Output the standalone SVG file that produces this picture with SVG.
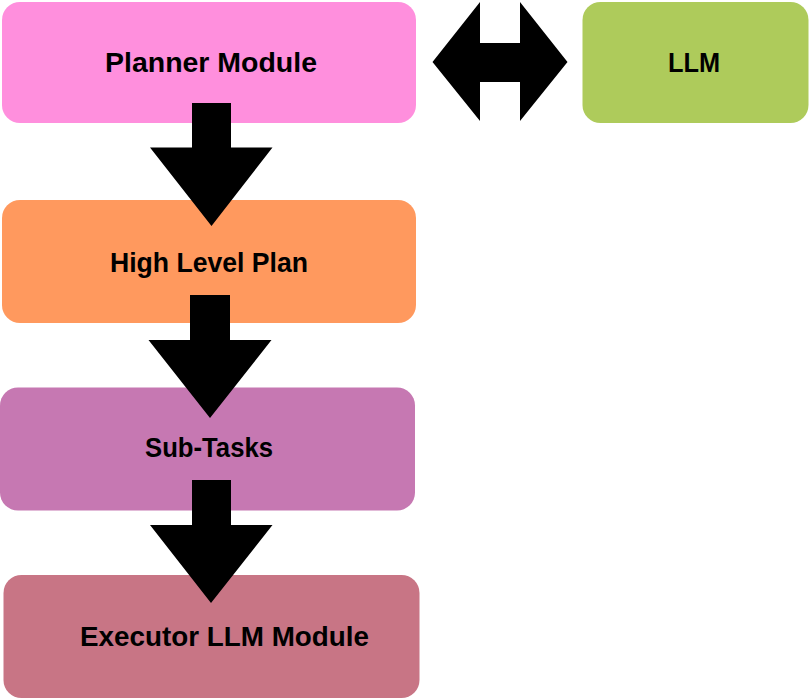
<svg xmlns="http://www.w3.org/2000/svg" width="809" height="699" viewBox="0 0 809 699">
<style>
.lbl{font-family:"Liberation Sans",Arial,sans-serif;font-weight:bold;font-size:28px;fill:#000}
.arrow{fill:#000}
</style>
<rect width="809" height="699" fill="#fff"/>
<g id="planner">
<rect x="2" y="2" width="414" height="121" rx="18" fill="#FF8FDD"/>
<text class="lbl" x="105" y="71.5" textLength="212" lengthAdjust="spacingAndGlyphs">Planner Module</text>
</g>
<g id="llm">
<rect x="582.5" y="2" width="226" height="121" rx="18" fill="#AECB5B"/>
<text class="lbl" x="668" y="71.5" textLength="52" lengthAdjust="spacingAndGlyphs">LLM</text>
</g>
<g id="plan">
<rect x="2" y="200" width="414" height="123" rx="18" fill="#FF995E"/>
<text class="lbl" x="110" y="271.5" textLength="198" lengthAdjust="spacingAndGlyphs">High Level Plan</text>
</g>
<g id="subtasks">
<rect x="0" y="387.5" width="415" height="123" rx="18" fill="#C678B2"/>
<text class="lbl" x="145" y="456.5" textLength="128" lengthAdjust="spacingAndGlyphs">Sub-Tasks</text>
</g>
<g id="executor">
<rect x="3.5" y="575" width="416" height="123" rx="18" fill="#C87585"/>
<text class="lbl" x="80" y="645.5" textLength="289" lengthAdjust="spacingAndGlyphs">Executor LLM Module</text>
</g>
<g id="connectors">
<polygon class="arrow" points="192,103 231,103 231,147.5 272.5,147.5 211.5,226 150,147.5 192,147.5"/>
<polygon class="arrow" points="190,295 230,295 230,340 271.5,340 210,418 148.5,340 190,340"/>
<polygon class="arrow" points="192,480 231,480 231,525 272.5,525 211,603 150,525 192,525"/>
<polygon class="arrow" points="432.5,62 480,2 480,43 520,43 520,2 567.5,62 520,121 520,82 480,82 480,121"/>
</g>
</svg>
